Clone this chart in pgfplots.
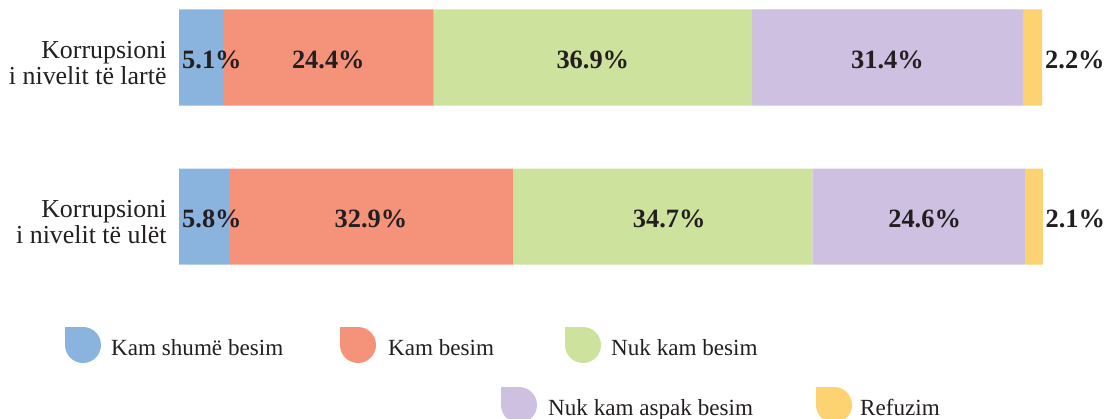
\documentclass[border=0pt]{standalone}
\usepackage{fontspec}
\setmainfont{Liberation Serif}
\usepackage{pgfplots}
\pgfplotsset{compat=1.18}

\definecolor{cBlue}{RGB}{138,180,222}
\definecolor{cSalmon}{RGB}{245,147,122}
\definecolor{cGreen}{RGB}{204,226,157}
\definecolor{cLilac}{RGB}{206,192,224}
\definecolor{cYellow}{RGB}{253,211,113}
\definecolor{cText}{RGB}{35,31,32}

% both axes share the same frame: 1bp = 1px of the reference
\pgfplotsset{
  chartbase/.style={
    scale only axis, width=863bp, height=254.4bp,
    at={(179bp,-264.2bp)}, anchor=south west,
    xmin=0, xmax=100, ymin=-0.3, ymax=1.3,
    enlargelimits=false, axis line style={draw=none},
    major tick length=0pt, xtick=\empty, clip=false,
  },
  pctlabel/.style={draw=none, mark=none, nodes near coords,
    point meta=explicit symbolic,
    every node near coord/.append style={anchor=#1, inner sep=0pt,
      font=\bfseries\fontsize{26.5}{26.5}\selectfont, text=cText, yshift=-2bp}},
}

\begin{document}
\begin{tikzpicture}
\useasboundingbox (0,0) rectangle (1113bp,-419bp);

\begin{axis}[chartbase, xbar stacked, bar width=96bp,
  ytick={0,1},
  yticklabels={{Korrupsioni\\i nivelit të ulët},{Korrupsioni\\i nivelit të lartë}},
  yticklabel style={align=right, font=\fontsize{26}{26}\selectfont,
    text=cText, xshift=-9bp, yshift=-6bp}]
\addplot[fill=cBlue, draw=none] coordinates {(5.8,0) (5.1,1)};
\addplot[fill=cSalmon, draw=none] coordinates {(32.9,0) (24.4,1)};
\addplot[fill=cGreen, draw=none] coordinates {(34.7,0) (36.9,1)};
\addplot[fill=cLilac, draw=none] coordinates {(24.6,0) (31.4,1)};
\addplot[fill=cYellow, draw=none] coordinates {(2.1,0) (2.2,1)};
\end{axis}

% value labels
\begin{axis}[chartbase, hide axis]
\addplot[pctlabel=center] coordinates {
  (17.3,1)[24.4\%] (47.95,1)[36.9\%] (82.1,1)[31.4\%]
  (22.25,0)[32.9\%] (56.8,0)[34.7\%] (86.4,0)[24.6\%]};
\addplot[pctlabel=west] coordinates {
  (0.35,1)[5.1\%] (100.35,1)[2.2\%] (0.35,0)[5.8\%] (100.4,0)[2.1\%]};
\end{axis}

% legend, leaf-shaped swatches
\foreach \c/\ix/\iy/\tx/\ty/\txt in {
  cBlue/65/327/111/355/Kam shumë besim,
  cSalmon/340/327/388/355/Kam besim,
  cGreen/565/327/611/355/Nuk kam besim,
  cLilac/501/387/548/415/Nuk kam aspak besim,
  cYellow/816/387/860/415/Refuzim}{
  \fill[\c] (\ix bp,-\iy bp) -- ++(18bp,0)
    arc[start angle=90, end angle=-90, radius=18bp]
    arc[start angle=270, end angle=180, radius=18bp] -- cycle;
  \node[anchor=base west, inner sep=0pt, text=cText,
    font=\fontsize{23.2}{23.2}\selectfont] at (\tx bp,-\ty bp) {\txt};
}
\end{tikzpicture}
\end{document}
